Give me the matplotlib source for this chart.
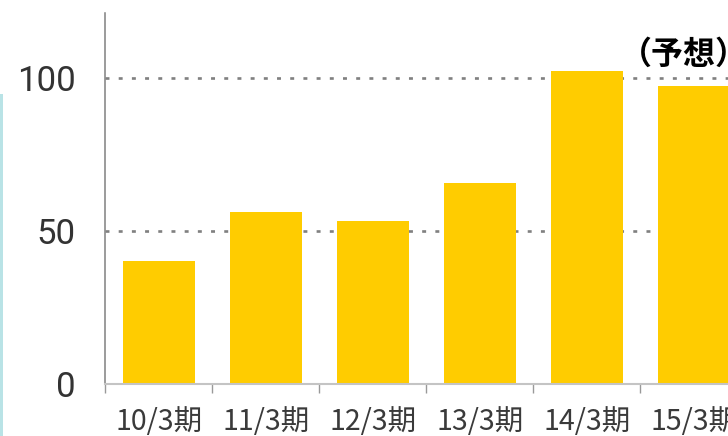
import matplotlib.pyplot as plt
from matplotlib.patches import Rectangle

periods = ["10/3期", "11/3期", "12/3期", "13/3期", "14/3期", "15/3期"]
values = [40.1, 56.1, 53.2, 65.6, 102.3, 97.2]
yticks = [0, 50, 100]
note = "（予想）"

bar_color = "#ffcc00"
grid_color = "#808080"

fig = plt.figure(figsize=(7.28, 4.36), dpi=100)
ax = fig.add_axes([105.3/728, 52/436, 642/728, 371.3/436])

x = range(len(periods))
ax.bar(x, values, width=0.673, color=bar_color, zorder=2)

for v in [50, 100]:
    ax.axhline(v, color=grid_color, lw=1.9, dashes=(1.5, 3.5), zorder=1)

ax.set_xlim(-0.5, 5.5)
ax.set_ylim(0, 121.3)

ax.spines["top"].set_visible(False)
ax.spines["right"].set_visible(False)
ax.spines["left"].set_color("#808080")
ax.spines["left"].set_linewidth(1.1)
ax.spines["bottom"].set_color("#c4c4c4")
ax.spines["bottom"].set_linewidth(1.5)

ax.set_yticks(yticks)
ax.set_yticklabels([str(t) for t in yticks], family="Roboto",
                   fontsize=25, color="#333333")
ax.tick_params(axis="y", length=0, pad=21.5)

ax.set_xticks(list(x))
ax.set_xticklabels(periods, family="Noto Sans CJK JP",
                   fontsize=20.5, color="#3a3a3a")
ax.tick_params(axis="x", which="major", length=0, pad=16.5)
ax.set_xticks([i - 0.5 for i in range(len(periods) + 1)], minor=True)
ax.tick_params(axis="x", which="minor", length=6.5, width=1, color="#999999")

ax.text(4.31, 107.5, note, fontsize=23, fontweight="bold", family="Noto Sans CJK JP",
        color="black", ha="left", va="center", clip_on=False)

fig.add_artist(Rectangle((0, 0), 3/728, 342/436, transform=fig.transFigure,
                         color="#b9e3e6", lw=0))

fig.savefig("out.png", dpi=100)
